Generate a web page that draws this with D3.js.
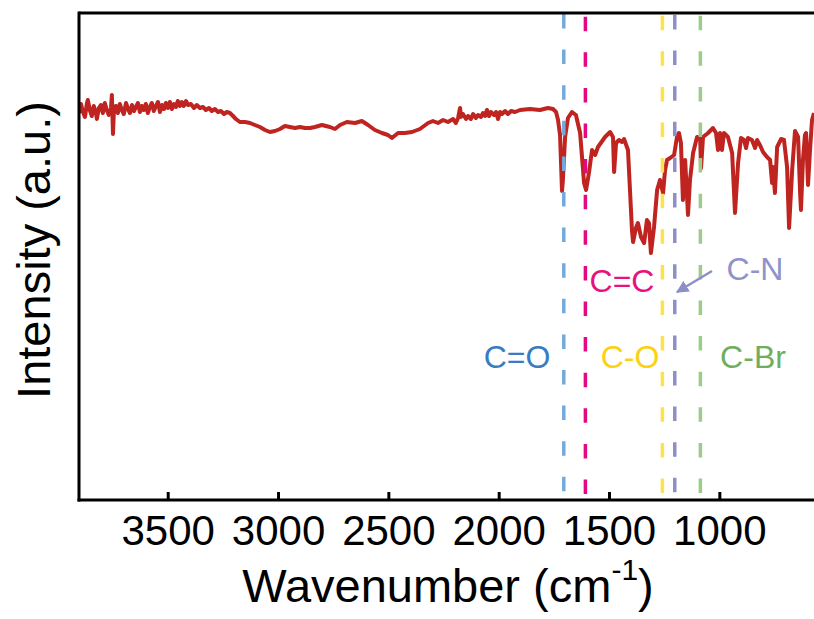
<!DOCTYPE html>
<html>
<head>
<meta charset="utf-8">
<script src="https://cdn.jsdelivr.net/npm/d3@7"></script>
<style>
  html, body { margin: 0; padding: 0; background: #fff; }
  svg { display: block; font-family: "Liberation Sans", Arial, sans-serif; }
</style>
</head>
<body>
<div id="chart"></div>
<script>
// FTIR spectrum, in four stretches
// 3900-3170 cm-1: noisy high-wavenumber end
const wnHigh = [
  3902, 3893, 3884, 3875, 3866, 3862, 3853, 3844, 3835, 3825, 3821, 3812, 3803, 3794, 3785, 3776,
  3767, 3757, 3753, 3748, 3744, 3735, 3726, 3717, 3708, 3699, 3689, 3680, 3671, 3662, 3653, 3644,
  3635, 3626, 3617, 3608, 3599, 3590, 3581, 3572, 3563, 3553, 3544, 3535, 3526, 3517, 3508, 3499,
  3490, 3481, 3472, 3463, 3454, 3445, 3436, 3427, 3417, 3408, 3395, 3381, 3368, 3354, 3340, 3327,
  3313, 3300, 3286, 3272, 3259, 3245, 3232, 3218, 3204, 3191, 3173
];
const intHigh = [
  77.4, 79.2, 77.6, 76.6, 79.4, 80.0, 78.0, 76.8, 78.8, 77.4, 76.2, 78.4, 79.0, 77.4, 79.4, 78.0,
  77.0, 78.4, 81.0, 73.2, 77.6, 78.8, 77.4, 79.2, 78.0, 77.2, 79.4, 78.2, 77.4, 79.0, 77.8, 78.6,
  79.4, 77.6, 78.8, 78.0, 79.2, 77.4, 78.6, 79.4, 77.8, 78.8, 79.6, 77.6, 79.0, 78.2, 79.4, 78.4,
  79.6, 78.2, 79.2, 78.6, 79.8, 78.8, 79.6, 78.8, 79.8, 79.0, 79.2, 78.4, 79.0, 78.4, 78.6, 78.0,
  78.4, 77.8, 78.2, 77.6, 77.8, 77.2, 77.6, 77.4, 76.8, 76.2, 75.6
];
// 3150-2230 cm-1: broad shallow region
const wnMid = [
  3150, 3127, 3105, 3082, 3059, 3037, 3014, 2991, 2969, 2946, 2923, 2901, 2878, 2855, 2833, 2801,
  2765, 2742, 2719, 2688, 2651, 2620, 2592, 2561, 2529, 2502, 2484, 2456, 2425, 2393, 2357, 2320,
  2298, 2275, 2252, 2230
];
const intMid = [
  75.6, 75.4, 75.0, 74.6, 74.0, 73.6, 73.8, 74.2, 74.8, 74.6, 74.4, 74.6, 74.4, 74.4, 74.6, 75.0,
  74.6, 74.2, 75.0, 75.6, 75.4, 75.8, 75.0, 74.0, 73.4, 73.0, 72.4, 73.4, 73.4, 73.6, 74.2, 75.4,
  75.8, 75.4, 76.0, 75.6
];
// 2210-1900 cm-1: noisy stretch before the carbonyl
const wnNoise = [
  2207, 2194, 2184, 2175, 2171, 2162, 2148, 2139, 2126, 2116, 2103, 2094, 2080, 2071, 2062, 2053,
  2044, 2035, 2021, 2012, 2003, 1994, 1985, 1971, 1958, 1944, 1926, 1903
];
const intNoise = [
  76.2, 75.4, 76.4, 78.4, 76.6, 77.2, 76.2, 76.8, 76.2, 77.2, 76.4, 77.0, 76.6, 77.4, 76.8, 78.0,
  76.8, 77.6, 77.0, 77.6, 76.2, 77.6, 77.2, 77.8, 77.2, 77.8, 77.6, 78.0
];
// 1860-570 cm-1: fingerprint region
const wnLow = [
  1858, 1813, 1777, 1754, 1740,
  1731, 1722, 1713, 1709, 1699, 1686, 1668, 1650, 1631, 1613, 1604, 1591, 1577, 1563, 1550, 1518,
  1495, 1482, 1477, 1468, 1455, 1441, 1432, 1414, 1396, 1391, 1378, 1369, 1355, 1341, 1328, 1319,
  1310, 1296, 1282, 1269, 1255, 1246, 1237, 1223, 1205, 1192, 1183, 1174, 1165, 1155, 1142, 1133,
  1119, 1101, 1087, 1083, 1074, 1051, 1029, 1015, 1006, 997, 988, 979, 961, 942, 929, 915,
  902, 888, 879, 870, 852, 838, 829, 816, 802, 784, 770, 761, 757, 748, 738, 720,
  707, 693, 684, 670, 657, 643, 634, 630, 621, 612, 607, 598, 589, 580, 571
];
const intLow = [
  78.2, 78.0, 78.4, 78.2, 77.6,
  76.0, 73.0, 61.8, 64.0, 72.6, 76.4, 77.6, 77.0, 73.4, 63.4, 62.0, 65.4, 70.0, 69.0, 70.6, 72.6,
  73.6, 72.6, 65.6, 71.4, 72.0, 71.6, 72.2, 70.0, 54.0, 51.6, 54.4, 55.4, 52.6, 51.4, 56.0, 55.4,
  49.4, 54.6, 62.0, 64.0, 61.4, 66.0, 68.0, 68.4, 69.0, 72.6, 73.4, 71.4, 60.0, 68.0, 57.0, 64.0,
  69.4, 72.6, 72.4, 66.4, 72.6, 73.4, 74.4, 73.4, 70.0, 73.4, 70.0, 73.4, 72.6, 69.4, 57.4, 67.4,
  72.4, 72.0, 70.4, 72.4, 72.0, 70.4, 72.0, 71.0, 69.6, 68.6, 68.0, 63.4, 66.6, 61.4, 70.6, 72.2,
  72.0, 66.6, 54.4, 66.0, 73.8, 72.6, 61.4, 58.0, 68.0, 73.0, 73.4, 63.0, 70.0, 76.0, 77.4
];

// band assignments (wavenumber of each dashed marker)
const bandNames = ['C=O', 'C=C', 'C-O', 'C-N', 'C-Br'];
const bandPositions = [1705, 1607, 1258, 1202, 1086];

const xTicks = [3500, 3000, 2500, 2000, 1500, 1000];

const lineColors = { 'C=O': '#74aadb', 'C=C': '#e5097f', 'C-O': '#ffe14a', 'C-N': '#8d8fc8', 'C-Br': '#9ccc8c' };
const textColors = { 'C=O': '#3a7cc3', 'C=C': '#e8127f', 'C-O': '#fcd111', 'C-N': '#8f93c9', 'C-Br': '#6fae5f' };
const dashStart = { 'C=O': 14, 'C=C': 16.7, 'C-O': 15.7, 'C-N': 15, 'C-Br': 15.7 };
// label anchor points in pixels (centre x, baseline y)
const labelPos = {
  'C=O': [517, 368], 'C=C': [622, 292], 'C-O': [630, 368], 'C-N': [755, 280], 'C-Br': [753, 368]
};

const width = 814, height = 619;
const M = { left: 79, top: 13, bottom: 500, right: 814 };

const svg = d3.select('#chart').append('svg')
  .attr('width', width)
  .attr('height', height);

const x = d3.scaleLinear().domain([3902, 571]).range([M.left, M.right]);
const y = d3.scaleLinear().domain([0, 97.4]).range([M.bottom, M.top]);

svg.append('clipPath').attr('id', 'plot-clip')
  .append('rect')
  .attr('x', M.left).attr('y', M.top)
  .attr('width', M.right - M.left).attr('height', M.bottom - M.top);

// spectrum
const wavenumbers = [...wnHigh, ...wnMid, ...wnNoise, ...wnLow];
const intensity = [...intHigh, ...intMid, ...intNoise, ...intLow];
const pts = wavenumbers.map((w, i) => [w, intensity[i]]);
const line = d3.line().x(d => x(d[0])).y(d => y(d[1]));

svg.append('path')
  .datum(pts)
  .attr('clip-path', 'url(#plot-clip)')
  .attr('d', line)
  .attr('fill', 'none')
  .attr('stroke', '#bf2421')
  .attr('stroke-width', 4)
  .attr('stroke-linejoin', 'round');

// dashed band markers (drawn over the spectrum)
bandNames.forEach((name, i) => {
  svg.append('line')
    .attr('x1', x(bandPositions[i])).attr('x2', x(bandPositions[i]))
    .attr('y1', dashStart[name]).attr('y2', 494)
    .attr('stroke', lineColors[name])
    .attr('stroke-width', 3.5)
    .attr('stroke-dasharray', '14.5 21.1');
});

// frame: left and top lines
svg.append('line')
  .attr('x1', M.left).attr('x2', M.left)
  .attr('y1', M.top - 1.5).attr('y2', M.bottom + 1.5)
  .attr('stroke', '#000').attr('stroke-width', 3);
svg.append('line')
  .attr('x1', M.left).attr('x2', width)
  .attr('y1', M.top).attr('y2', M.top)
  .attr('stroke', '#000').attr('stroke-width', 3);

const xAxis = d3.axisBottom(x)
  .tickValues(xTicks)
  .tickSizeInner(-8)
  .tickSizeOuter(0)
  .tickPadding(15)
  .tickFormat(d3.format('d'));

const xAxisG = svg.append('g')
  .attr('transform', `translate(0,${M.bottom})`)
  .call(xAxis);
xAxisG.select('.domain').attr('stroke-width', 3).attr('d', `M${M.left - 1.5},0H${width}`);
xAxisG.selectAll('.tick line').attr('stroke-width', 3);
xAxisG.selectAll('.tick text')
  .attr('fill', '#000')
  .style('font-family', '"Liberation Sans", Arial, sans-serif')
  .style('font-size', '42px');

// axis titles
const xt = svg.append('text')
  .attr('x', 448).attr('y', 602)
  .attr('text-anchor', 'middle')
  .style('font-size', '47px')
  .attr('fill', '#000');
xt.append('tspan').text('Wavenumber (cm');
xt.append('tspan').attr('dy', -22).style('font-size', '30px').text('-1');
xt.append('tspan').attr('dy', 22).text(')');

svg.append('text')
  .attr('transform', 'translate(50,250) rotate(-90)')
  .attr('text-anchor', 'middle')
  .style('font-size', '47px')
  .attr('fill', '#000')
  .text('Intensity (a.u.)');

// band labels
bandNames.forEach(name => {
  svg.append('text')
    .attr('x', labelPos[name][0])
    .attr('y', labelPos[name][1])
    .attr('text-anchor', 'middle')
    .style('font-size', '32px')
    .attr('fill', textColors[name])
    .text(name);
});

// arrow from C-N label to its band
svg.append('defs').append('marker')
  .attr('id', 'arrow-head')
  .attr('viewBox', '0 0 10 10')
  .attr('refX', 9).attr('refY', 5)
  .attr('markerWidth', 5).attr('markerHeight', 5)
  .attr('orient', 'auto')
  .append('path')
  .attr('d', 'M0,0L10,5L0,10Z')
  .attr('fill', '#8d8fc8');

svg.append('line')
  .attr('x1', 712).attr('y1', 271)
  .attr('x2', 677).attr('y2', 292)
  .attr('stroke', '#8d8fc8')
  .attr('stroke-width', 2.5)
  .attr('marker-end', 'url(#arrow-head)');
</script>
</body>
</html>
